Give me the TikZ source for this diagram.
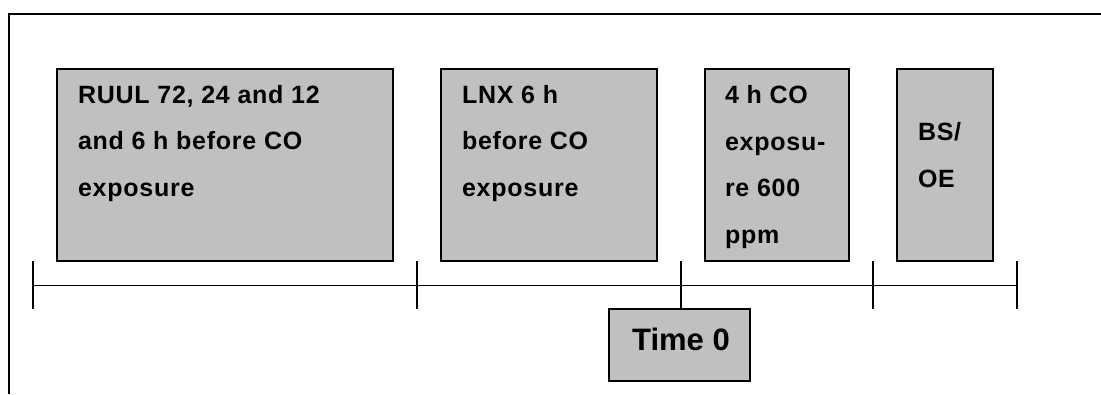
\documentclass[tikz,border=0pt]{standalone}
\usepackage{fontspec}
\setmainfont{Liberation Sans}
\newfontfamily\boxfont{Liberation Sans}[LetterSpace=3]
\definecolor{boxgray}{RGB}{192,192,192}
\tikzset{
  box/.style={draw=black, fill=boxgray, line width=1.5pt, inner sep=0pt, outer sep=0pt, anchor=north west},
  lbl/.style={font=\boxfont\fontsize{25}{46.5}\selectfont\bfseries, align=left, anchor=north west, inner sep=0pt, outer sep=0pt},
  bigl/.style={font=\fontsize{31}{36}\selectfont\bfseries, anchor=base, inner sep=0pt},
  axis/.style={line width=1pt},
  tickline/.style={line width=1.5pt},
  frameline/.style={line width=1.5pt},
}
\begin{document}
\begin{tikzpicture}[x=1pt,y=-1pt]
\useasboundingbox (0,0) rectangle (1101,394);
% frame
\coordinate (fa) at (9,394);
\coordinate (fb) at (9,14);
\coordinate (fc) at (1101,14);
\draw[frameline] (fa) -- (fb) -- (fc);
% boxes
\node[box, minimum width=336pt, minimum height=192pt] (r1) at (57,69) {};
\node[box, minimum width=216pt, minimum height=192pt] (r2) at (441,69) {};
\node[box, minimum width=144pt, minimum height=192pt] (r3) at (705,69) {};
\node[box, minimum width=96pt, minimum height=192pt] (r4) at (897,69) {};
\node[box, minimum width=141pt, minimum height=72pt] (tm) at (609,309) {};
% labels
\node[lbl] (t1) at (78,85) {RUUL 72, 24 and 12\\and 6 h before CO\\exposure};
\node[lbl] (t2) at (462,85) {LNX 6 h\\before CO\\exposure};
\node[lbl] (t3) at (725,85.5) {4 h CO\\exposu-\\re 600\\ppm};
\node[lbl] (t4) at (918,122.5) {BS/\\OE};
\node[bigl] (t5) at (681,350) {Time 0};
% timeline
\coordinate (k1) at (33,285);
\coordinate (k2) at (417,285);
\coordinate (k3) at (681,285);
\coordinate (k4) at (873,285);
\coordinate (k5) at (1017,285);
\draw[axis] (k1) -- (k5);
\foreach \k in {k1,k2,k4,k5}{
  \draw[tickline] ([yshift=24pt]\k) -- ([yshift=-24pt]\k);
}
\draw[tickline] ([yshift=24pt]k3) -- (k3 |- tm.north);
\end{tikzpicture}
\end{document}
